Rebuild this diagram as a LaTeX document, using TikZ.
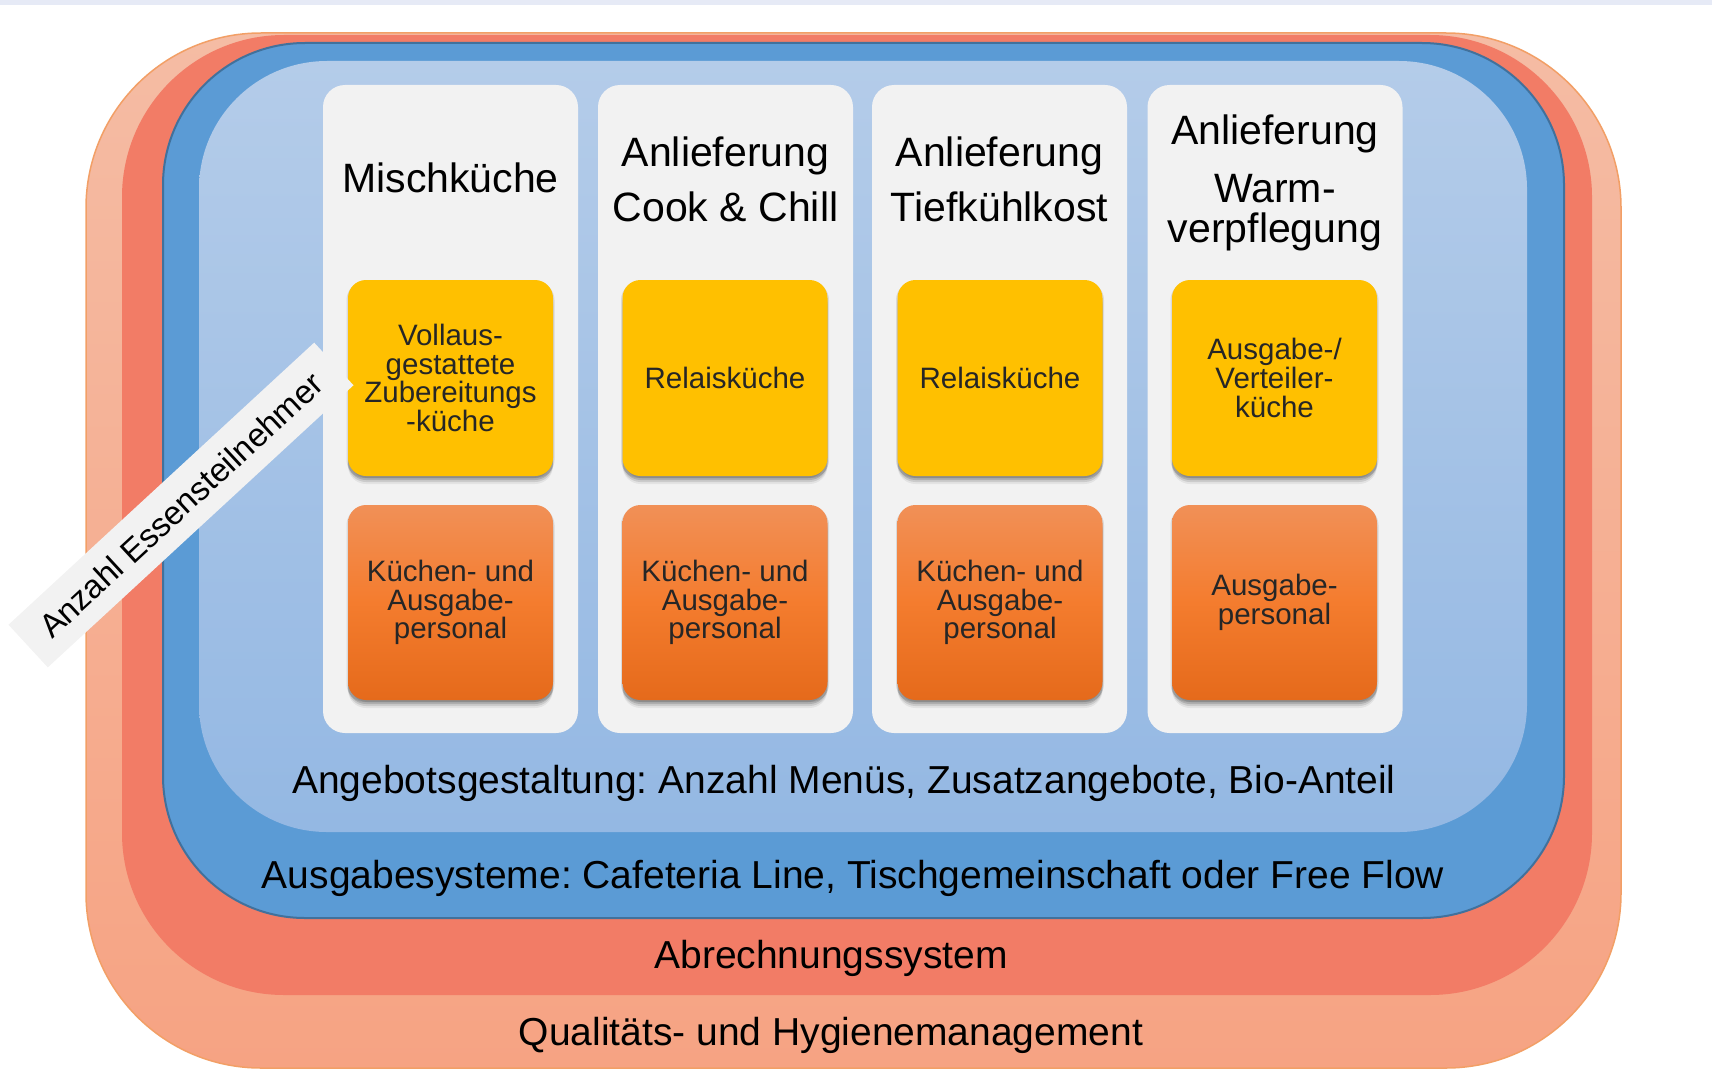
\documentclass[tikz,border=0pt]{standalone}
\usepackage{fontspec}
\setmainfont{Liberation Sans}
\frenchspacing
\definecolor{topstrip}{HTML}{E6EAF6}
\definecolor{qualtop}{HTML}{F5BCA4}
\definecolor{qualbot}{HTML}{F6A383}
\definecolor{qualline}{HTML}{F29F66}
\definecolor{abr}{HTML}{F27C66}
\definecolor{ausg}{HTML}{5B9BD5}
\definecolor{ausgline}{HTML}{41719C}
\definecolor{angtop}{HTML}{B4CCE9}
\definecolor{angbot}{HTML}{94B8E3}
\definecolor{colgray}{HTML}{F2F2F2}
\definecolor{yel}{HTML}{FFC000}
\definecolor{ortop}{HTML}{F19057}
\definecolor{ormid}{HTML}{F47C2E}
\definecolor{orbot}{HTML}{E56A1B}
\definecolor{darktext}{HTML}{262626}
\begin{document}
\begin{tikzpicture}[x=1pt,y=-1pt,
  layer/.style={inner sep=0pt, outer sep=0pt},
  colbox/.style={fill=colgray, rounded corners=22pt, minimum width=255pt, minimum height=648pt, inner sep=0pt},
  boxshadow/.style={
    preaction={fill=black, fill opacity=0.06, transform canvas={yshift=-8pt}},
    preaction={fill=black, fill opacity=0.10, transform canvas={yshift=-6pt}},
    preaction={fill=black, fill opacity=0.14, transform canvas={yshift=-4pt}},
    preaction={fill=black, fill opacity=0.10, transform canvas={xshift=1.5pt,yshift=-2pt}},
    preaction={fill=black, fill opacity=0.10, transform canvas={xshift=-1.5pt,yshift=-2pt}}},
  ybox/.style={boxshadow, fill=yel, rounded corners=18pt, minimum width=205pt, minimum height=196pt, inner sep=0pt, align=center, text=darktext, font=\fontsize{29.5}{28.7}\selectfont},
  obox/.style={boxshadow, top color=ortop, bottom color=orbot, middle color=ormid, rounded corners=18pt, minimum width=205pt, minimum height=195pt, inner sep=0pt, align=center, text=darktext, font=\fontsize{29.5}{28.7}\selectfont},
  coltitle/.style={anchor=base, inner sep=0pt, font=\fontsize{41}{48}\selectfont},
  bandtext/.style={anchor=base, inner sep=0pt, font=\fontsize{39}{46}\selectfont}
]
\useasboundingbox (0,0) rectangle (1712,1078);
\fill[topstrip] (0,0) rectangle (1712,5);

% nested layers
\node[layer, top color=qualtop, bottom color=qualbot, draw=qualline, line width=1.5pt, rounded corners=175pt, minimum width=1535pt, minimum height=1035pt] (qual) at (853.5,550.5) {};
\node[layer, fill=abr, rounded corners=162pt, minimum width=1470pt, minimum height=960pt] (abr) at (857,515) {};
\node[layer, fill=ausg, draw=ausgline, line width=2pt, rounded corners=142pt, minimum width=1401pt, minimum height=875pt] (ausg) at (863.5,480.5) {};
\node[layer, top color=angtop, bottom color=angbot, rounded corners=128pt, minimum width=1328pt, minimum height=771pt] (ang) at (863,446.5) {};

% columns
\node[colbox] (c1) at (450.5,409) {};
\node[colbox] (c2) at (725.5,409) {};
\node[colbox] (c3) at (999.5,409) {};
\node[colbox] (c4) at (1275,409) {};

% column titles
\node[coltitle] (t1) at (450.5,193) {Mischküche};
\node[coltitle] (t2a) at (725.5,167) {Anlieferung};
\node[coltitle] (t2b) at (725.5,222) {Cook \& Chill};
\node[coltitle] (t3a) at (999.5,167) {Anlieferung};
\node[coltitle] (t3b) at (999.5,222) {Tiefkühlkost};
\node[coltitle] (t4a) at (1275,145) {Anlieferung};
\node[coltitle] (t4b) at (1275,202) {Warm-};
\node[coltitle] (t4c) at (1275,242) {verpflegung};

% yellow boxes
\node[ybox] (y1) at (450.5,378) {Vollaus-\\gestattete\\Zubereitungs\\-küche};
\node[ybox] (y2) at (725,378) {Relaisküche};
\node[ybox] (y3) at (1000,378) {Relaisküche};
\node[ybox] (y4) at (1274.5,378) {Ausgabe-/\\Verteiler-\\küche};

% orange boxes
\node[obox] (o1) at (450.5,602.5) {Küchen- und\\Ausgabe-\\personal};
\node[obox] (o2) at (725,602.5) {Küchen- und\\Ausgabe-\\personal};
\node[obox] (o3) at (1000,602.5) {Küchen- und\\Ausgabe-\\personal};
\node[obox] (o4) at (1274.5,602.5) {Ausgabe-\\personal};

% layer labels
\node[bandtext] (lang) at (844,793) {Angebotsgestaltung: Anzahl Menüs, Zusatzangebote, Bio-Anteil};
\node[bandtext] (lausg) at (853,888) {Ausgabesysteme: Cafeteria Line, Tischgemeinschaft oder Free Flow};
\node[bandtext] (labr) at (831,968) {Abrechnungssystem};
\node[bandtext] (lqual) at (831,1045) {Qualitäts- und Hygienemanagement};

% ribbon
\node[fill=colgray, rotate=42.7, minimum width=416pt, minimum height=58pt, inner sep=0pt, font=\fontsize{33}{40}\selectfont] (ribbon) at (181,505) {Anzahl Essensteilnehmer};
\end{tikzpicture}
\end{document}
